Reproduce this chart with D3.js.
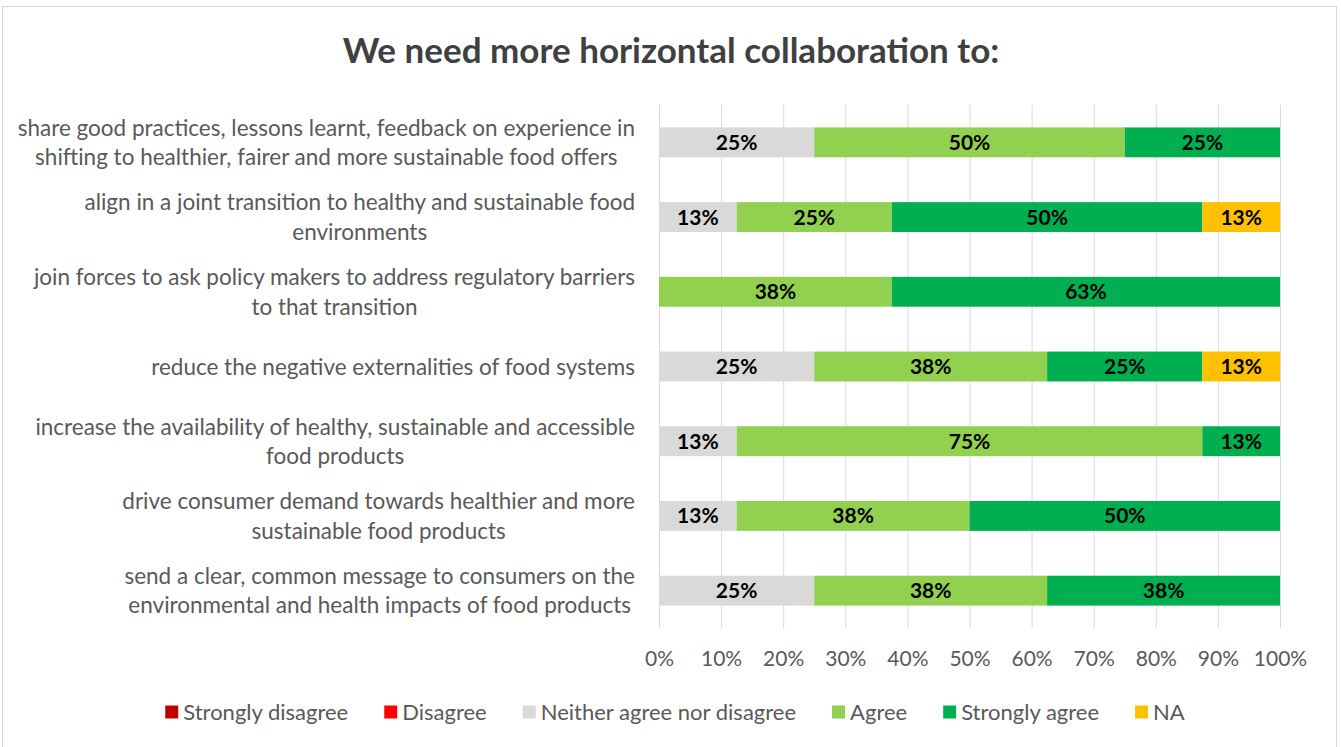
<!DOCTYPE html>
<html>
<head>
<meta charset="utf-8">
<script src="https://cdn.jsdelivr.net/npm/d3@7"></script>
<style>
  html, body { margin: 0; padding: 0; background: #fff; }
  svg { display: block; }
</style>
</head>
<body>
<svg id="chart" width="1341" height="747"></svg>
<script>
// Survey statements (top to bottom), each split into its display lines
const statements = [
  ["share good practices, lessons learnt, feedback on experience in", "shifting to healthier, fairer and more sustainable food offers"],
  ["align in a joint transition to healthy and sustainable food", "environments"],
  ["join forces to ask policy makers to address regulatory barriers", "to that transition"],
  ["reduce the negative externalities of food systems"],
  ["increase the availability of healthy, sustainable and accessible", "food products"],
  ["drive consumer demand towards healthier and more", "sustainable food products"],
  ["send a clear, common message to consumers on the", "environmental and health impacts of food products"]
];

// Response shares (%) per statement, same order as above
const stronglyDisagree = [0, 0, 0, 0, 0, 0, 0];
const disagree         = [0, 0, 0, 0, 0, 0, 0];
const neither          = [25, 12.5, 0, 25, 12.5, 12.5, 25];
const agree            = [50, 25, 37.5, 37.5, 75, 37.5, 37.5];
const stronglyAgree    = [25, 50, 62.5, 25, 12.5, 50, 37.5];
const notApplicable    = [0, 12.5, 0, 12.5, 0, 0, 0];

const seriesNames  = ["Strongly disagree", "Disagree", "Neither agree nor disagree", "Agree", "Strongly agree", "NA"];
const seriesColors = ["#C00000", "#FF0000", "#D9D9D9", "#92D050", "#00B050", "#FFC000"];
const tickValues   = [0, 10, 20, 30, 40, 50, 60, 70, 80, 90, 100];

const seriesValues = [stronglyDisagree, disagree, neither, agree, stronglyAgree, notApplicable];
const rows = statements.map((s, i) => {
  const r = { id: i };
  seriesNames.forEach((n, k) => { r[n] = seriesValues[k][i]; });
  return r;
});

const FONT = "Lato, 'Open Sans', sans-serif";
const svg = d3.select("#chart");

// chart frame
svg.append("rect")
  .attr("x", 2.5).attr("y", 6.5).attr("width", 1334).attr("height", 760)
  .attr("fill", "#fff").attr("stroke", "#D9D9D9").attr("stroke-width", 1);

// title
svg.append("text")
  .attr("x", 671).attr("y", 63)
  .attr("text-anchor", "middle")
  .attr("font-family", FONT).attr("font-weight", "bold")
  .attr("font-size", 35).attr("fill", "#404040")
  .text("We need more horizontal collaboration to:");

const plot = { left: 659, right: 1280, top: 105, bottom: 628 };

const x = d3.scaleLinear().domain([0, 100]).range([plot.left, plot.right]);
const y = d3.scaleBand().domain(d3.range(statements.length))
  .range([plot.top, plot.bottom]).paddingInner(0.6).paddingOuter(0.3);

// vertical gridlines
svg.append("g").selectAll("line").data(tickValues).join("line")
  .attr("x1", d => x(d) + 0.5).attr("x2", d => x(d) + 0.5)
  .attr("y1", plot.top).attr("y2", plot.bottom)
  .attr("stroke", "#D9D9D9").attr("stroke-width", 1);

// x axis tick labels
const xAxis = d3.axisBottom(x).tickValues(tickValues).tickFormat(d => d + "%").tickSize(0).tickPadding(0);
const gx = svg.append("g").attr("transform", `translate(0,${plot.bottom + 23})`).call(xAxis);
gx.select(".domain").remove();
gx.selectAll("text")
  .attr("font-family", FONT).attr("font-size", 21).attr("fill", "#595959")
  .attr("dy", "0.71em");

// stacked bars
const stack = d3.stack().keys(seriesNames);
const layers = stack(rows);

const layerG = svg.append("g").selectAll("g").data(layers).join("g")
  .attr("fill", (d, i) => seriesColors[i]);

layerG.selectAll("rect").data(d => d.filter(p => p[1] - p[0] > 0)).join("rect")
  .attr("x", d => x(d[0]))
  .attr("width", d => x(d[1]) - x(d[0]))
  .attr("y", d => y(d.data.id))
  .attr("height", y.bandwidth());

// data labels
layerG.selectAll("text").data(d => d.filter(p => p[1] - p[0] > 0)).join("text")
  .attr("x", d => (x(d[0]) + x(d[1])) / 2)
  .attr("y", d => y(d.data.id) + y.bandwidth() / 2)
  .attr("dy", "0.36em")
  .attr("text-anchor", "middle")
  .attr("font-family", FONT).attr("font-weight", "bold")
  .attr("font-size", 21).attr("fill", "#000")
  .text(d => Math.round(d[1] - d[0]) + "%");

// category labels: each block right-aligned, lines centred within the block
const labelRight = 635;
const lineGap = 29.5;
const catG = svg.append("g");
statements.forEach((lines, i) => {
  const cy = y(i) + y.bandwidth() / 2;
  const t = catG.append("text")
    .attr("font-family", FONT).attr("font-size", 22.5).attr("fill", "#595959")
    .attr("text-anchor", "middle");
  const spans = lines.map((ln, k) => t.append("tspan")
    .attr("y", cy + (k - (lines.length - 1) / 2) * lineGap)
    .attr("dy", "0.36em")
    .text(ln));
  const maxW = d3.max(spans, s => s.node().getComputedTextLength());
  spans.forEach(s => s.attr("x", labelRight - maxW / 2));
});

// legend
const legendItems = seriesNames.map((n, i) => ({ name: n, color: seriesColors[i] }));
const legend = svg.append("g");
const legendGap = 36;
let lx = 0;
const items = legend.selectAll("g").data(legendItems).join("g");
items.append("rect").attr("width", 13).attr("height", 13).attr("y", -6.5).attr("fill", d => d.color);
items.append("text").attr("x", 18).attr("dy", "0.36em")
  .attr("font-family", FONT).attr("font-size", 22).attr("fill", "#595959")
  .text(d => d.name);
items.each(function () {
  const g = d3.select(this);
  g.attr("transform", `translate(${lx},0)`);
  lx += 18 + g.select("text").node().getComputedTextLength() + legendGap;
});
const legendW = lx - legendGap;
legend.attr("transform", `translate(${675 - legendW / 2},712)`);
</script>
</body>
</html>
